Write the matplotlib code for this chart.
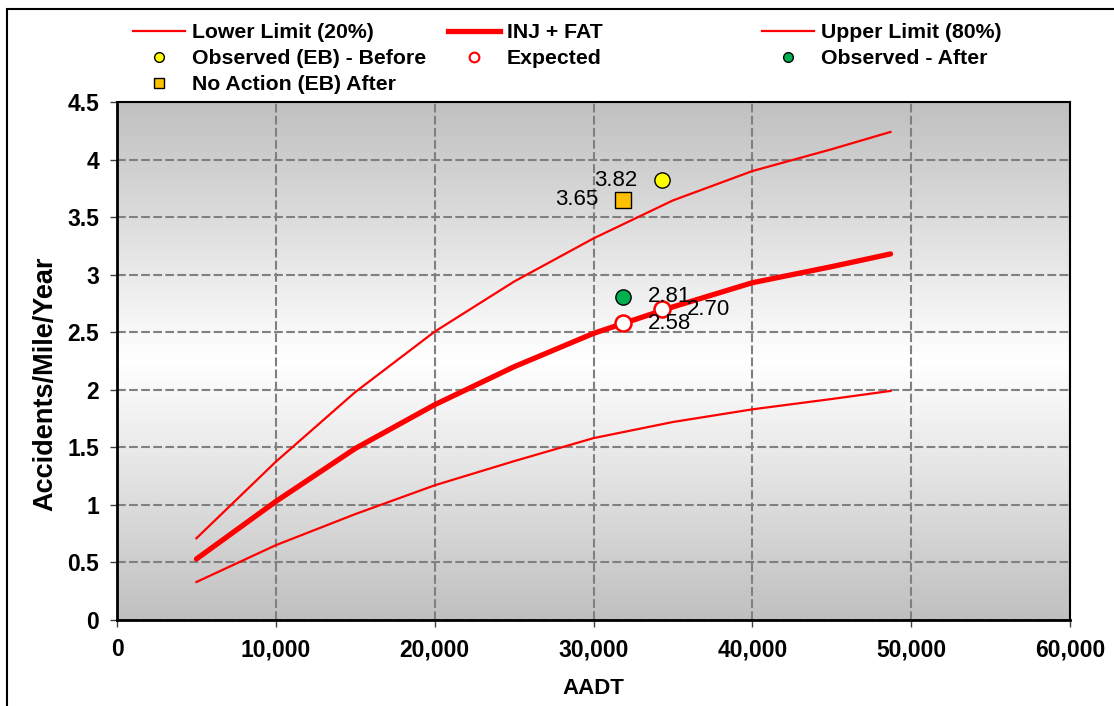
from matplotlib import pyplot as plt
from matplotlib.lines import Line2D
from matplotlib.patches import Rectangle
from matplotlib.colors import LinearSegmentedColormap
from matplotlib.ticker import FuncFormatter
import numpy as np

plt.rcParams['font.family'] = ['Liberation Sans', 'DejaVu Sans']

# curves
aadt = [5000, 10000, 15000, 20000, 25000, 30000, 35000, 40000, 45000, 48700]
lower_limit = [0.33, 0.65, 0.92, 1.17, 1.38, 1.58, 1.72, 1.83, 1.92, 1.99]
inj_fat = [0.53, 1.03, 1.49, 1.87, 2.20, 2.49, 2.72, 2.93, 3.07, 3.18]
upper_limit = [0.71, 1.375, 1.98, 2.505, 2.94, 3.315, 3.645, 3.90, 4.09, 4.24]

# single points
before_x = [34320]
before_y = [3.82]
no_action_x = [31860]
no_action_y = [3.65]
after_x = [31860]
after_y = [2.81]
expected_x = [31860, 34320]
expected_y = [2.58, 2.70]

RED = '#FF0000'


def gradient_bg(ax):
    t = np.linspace(0, 1, 256)
    g = np.abs(t - 0.5) * 2
    cmap = LinearSegmentedColormap.from_list('bg', ['#FFFFFF', '#C0C0C0'])
    ax.imshow(g[:, None], cmap=cmap, aspect='auto', extent=[0, 1, 0, 1],
              transform=ax.transAxes, zorder=0, interpolation='bilinear')


def label(ax, x, y, text, side):
    dx = -25 if side == 'left' else 25
    ha = 'right' if side == 'left' else 'left'
    ax.annotate(text, (x, y), xytext=(dx, 0), textcoords='offset pixels',
                ha=ha, va='center', fontsize=16, color='black', zorder=6)


fig = plt.figure(figsize=(11.14, 7.06), dpi=100)
ax = fig.add_axes([117 / 1114, 1 - 620 / 706, 953 / 1114, 518 / 706])
gradient_bg(ax)

ax.plot(aadt, lower_limit, color=RED, lw=1.6, zorder=3)
ax.plot(aadt, inj_fat, color=RED, lw=3.8, zorder=3, solid_capstyle='round')
ax.plot(aadt, upper_limit, color=RED, lw=1.6, zorder=3)

ax.plot(before_x, before_y, 'o', ms=11, mfc='#FFFF00', mec='black', mew=1, zorder=5)
ax.plot(no_action_x, no_action_y, 's', ms=11, mfc='#FFC000', mec='black', mew=1, zorder=5)
ax.plot(after_x, after_y, 'o', ms=11, mfc='#00B050', mec='black', mew=1, zorder=5)
ax.plot(expected_x, expected_y, 'o', ms=11.5, mfc='white', mec=RED, mew=1.8, zorder=5)

label(ax, before_x[0], before_y[0], '%.2f' % before_y[0], 'left')
label(ax, no_action_x[0], no_action_y[0], '%.2f' % no_action_y[0], 'left')
label(ax, after_x[0], after_y[0], '%.2f' % after_y[0], 'right')
for x, y in zip(expected_x, expected_y):
    label(ax, x, y, '%.2f' % y, 'right')

ax.set_xlim(0, 60000)
ax.set_ylim(0, 4.5)
ax.set_xticks(np.arange(0, 60001, 10000))
ax.set_yticks(np.arange(0, 4.51, 0.5))
ax.xaxis.set_major_formatter(FuncFormatter(lambda v, p: f'{int(v):,}'))
ax.yaxis.set_major_formatter(FuncFormatter(lambda v, p: f'{v:g}'))
ax.grid(True, color='#808080', lw=1.5, linestyle=(0, (4.2, 1.6)), zorder=1)
ax.set_axisbelow(True)

for s in ['left', 'bottom']:
    ax.spines[s].set_linewidth(2)
for s in ['top', 'right']:
    ax.spines[s].set_linewidth(1.5)
ax.tick_params(axis='both', direction='out', length=5, width=1, color='#404040',
               labelsize=16.5, pad=8)
for t in ax.get_xticklabels() + ax.get_yticklabels():
    t.set_fontweight('bold')

ax.set_xlabel('AADT', fontsize=16, fontweight='bold', labelpad=12)
ax.set_ylabel('Accidents/Mile/Year', fontsize=19.5, fontweight='bold')
ax.yaxis.set_label_coords(-0.062, 0.456)

# legend: three separate columns
col1 = [
    Line2D([], [], color=RED, lw=1.6),
    Line2D([], [], ls='none', marker='o', ms=7, mfc='#FFFF00', mec='black', mew=1),
    Line2D([], [], ls='none', marker='s', ms=7, mfc='#FFC000', mec='black', mew=1),
]
col2 = [
    Line2D([], [], color=RED, lw=3.8),
    Line2D([], [], ls='none', marker='o', ms=7, mfc='white', mec=RED, mew=1.5),
]
col3 = [
    Line2D([], [], color=RED, lw=1.6),
    Line2D([], [], ls='none', marker='o', ms=7, mfc='#00B050', mec='black', mew=1),
]
names1 = ['Lower Limit (20%)', 'Observed (EB) - Before', 'No Action (EB) After']
names2 = ['INJ + FAT', 'Expected']
names3 = ['Upper Limit (80%)', 'Observed - After']

for handles, names, x in [(col1, names1, 133), (col2, names2, 448), (col3, names3, 762)]:
    fig.legend(handles, names, loc='upper left', bbox_to_anchor=(x / 1114, 1 - 23 / 706),
               frameon=False, borderpad=0, borderaxespad=0, handlelength=2.45,
               handletextpad=0.33, labelspacing=0.33,
               prop={'size': 15.3, 'weight': 'bold'})

fig.patches.append(Rectangle((7 / 1114, -0.1), 1.2, 1.1 - 9 / 706, transform=fig.transFigure,
                             fill=False, edgecolor='black', lw=1.5))

fig.savefig('out.png', dpi=100)
